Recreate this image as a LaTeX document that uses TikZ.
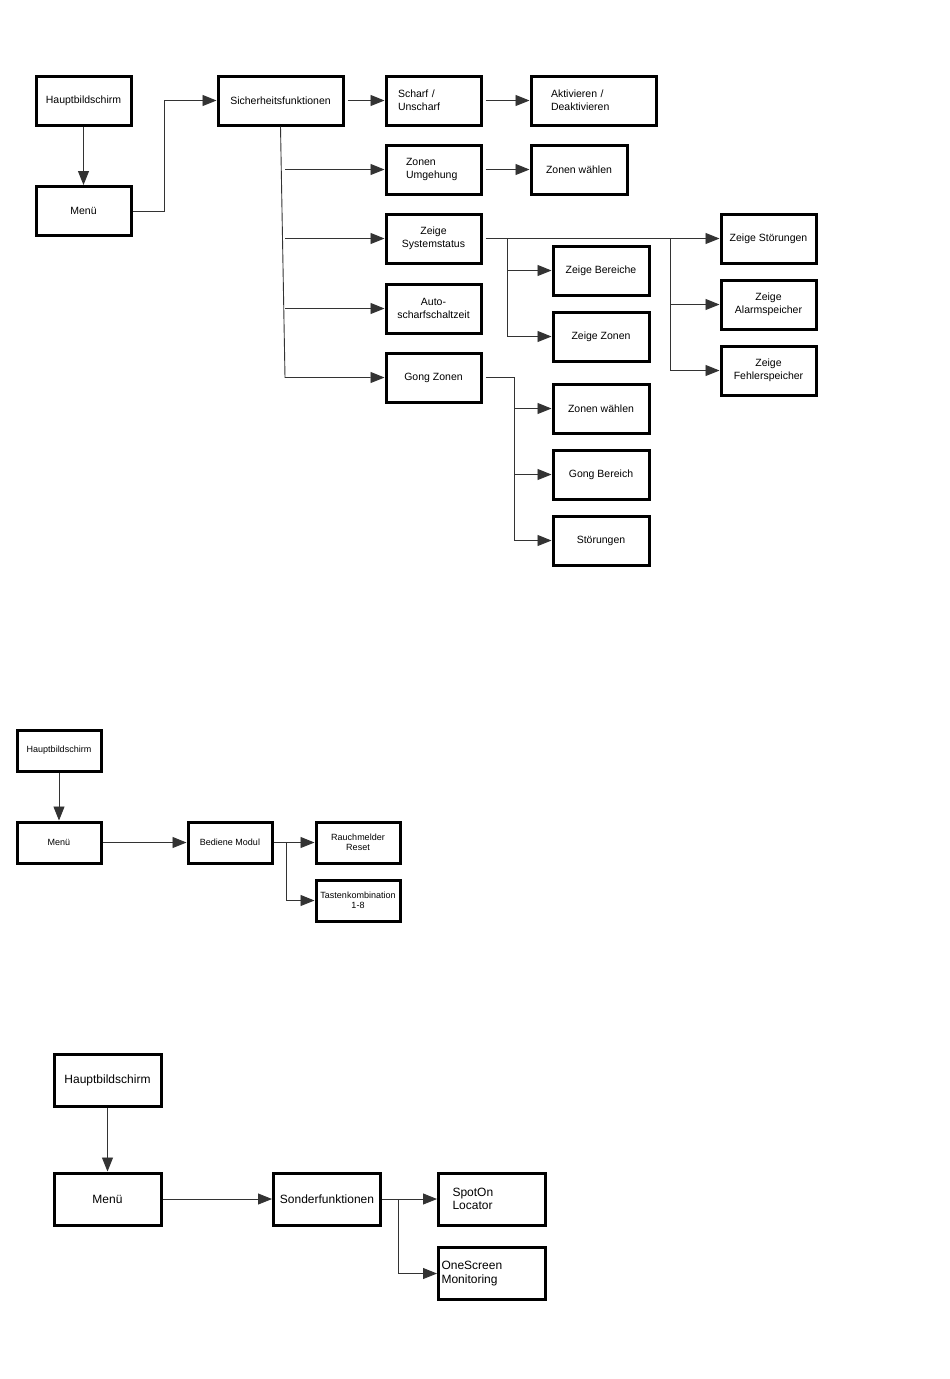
\documentclass[tikz,border=0pt]{standalone}
\usepackage{fontspec}
\setmainfont{Liberation Sans}
\usetikzlibrary{arrows.meta,calc}
\begin{document}
\begin{tikzpicture}[x=1pt,y=-1pt,
  box/.style={draw=black,line width=3pt,inner sep=0pt,align=center},
  topbox/.style={box,minimum width=95,minimum height=49,font=\fontsize{10.5}{12.6}\selectfont},
  midbox/.style={box,minimum width=84,minimum height=41,font=\fontsize{9}{10}\selectfont},
  botbox/.style={box,minimum width=107,minimum height=52,font=\fontsize{12}{13.5}\selectfont},
  lefttext/.style={align=left},
  conn/.style={draw=black!80,line width=0.9pt},
  arr/.style={conn,-{Triangle[length=14pt,width=11pt]}}]
\useasboundingbox[fill=white] (0,0) rectangle (950,1379);

% ---------- top diagram ----------
\node[topbox] (hb1) at (83.5,100.5) {Hauptbildschirm};
\node[topbox] (mn1) at (83.5,211) {Menü};
\node[topbox,minimum width=125] (sf) at (280.5,100.5) {Sicherheitsfunktionen};
\node[topbox,text width=71,inner xsep=12,lefttext] (sc) at (433.5,100.5) {Scharf /\\Unscharf};
\node[topbox,text width=85,inner xsep=20,lefttext] (ak) at (593.5,100.5) {Aktivieren /\\Deaktivieren};
\node[topbox,text width=55,inner xsep=20,lefttext] (zu) at (433.5,169.5) {Zonen\\Umgehung};
\node[topbox,minimum width=96] (zw) at (579,169.5) {Zonen wählen};
\node[topbox] (zs) at (433.5,238.5) {Zeige\\Systemstatus};
\node[topbox] (as) at (433.5,308.5) {Auto-\\scharfschaltzeit};
\node[topbox] (gz) at (433.5,377.5) {Gong Zonen};
\node[topbox] (zst) at (768.5,238.5) {Zeige Störungen};
\node[topbox,minimum width=96] (zb) at (601,270.5) {Zeige Bereiche};
\node[topbox,minimum width=96] (zz) at (601,336.5) {Zeige Zonen};
\node[topbox] (za) at (768.5,304.5) {Zeige\\Alarmspeicher};
\node[topbox] (zf) at (768.5,370.5) {Zeige\\Fehlerspeicher};
\node[topbox,minimum width=96] (gzw) at (601,408.5) {Zonen wählen};
\node[topbox,minimum width=96] (gb) at (601,474.5) {Gong Bereich};
\node[topbox,minimum width=96] (gs) at (601,540.5) {Störungen};

\draw[arr] (hb1) -- (mn1);
\draw[arr] (mn1.east) -- ++(32,0) |- (sf.west);
\draw[arr] ($(sf.east)+(3,0)$) -- (sc.west);
\draw[arr] ($(sc.east)+(3,0)$) -- (ak.west);
\coordinate (sfb) at (285,377.5);
\draw[arr] (sf.south) -- (sfb) -- (gz.west);
\draw[arr] (sfb |- zu.west) -- (zu.west);
\draw[arr] (sfb |- zs.west) -- (zs.west);
\draw[arr] (sfb |- as.west) -- (as.west);
\draw[arr] ($(zu.east)+(3,0)$) -- (zw.west);
\draw[arr] ($(zs.east)+(3,0)$) -- (zst.west);
\coordinate (j1) at (507,238.5);
\coordinate (j2) at (670,238.5);
\draw[arr] (j1) |- (zz.west);
\draw[arr] (j1 |- zb.west) -- (zb.west);
\draw[arr] (j2) |- (zf.west);
\draw[arr] (j2 |- za.west) -- (za.west);
\coordinate (j3) at (514,377.5);
\draw[arr] ($(gz.east)+(3,0)$) -- (j3) |- (gs.west);
\draw[arr] (j3 |- gzw.west) -- (gzw.west);
\draw[arr] (j3 |- gb.west) -- (gb.west);

% ---------- middle diagram ----------
\node[midbox] (hb2) at (59,750.5) {Hauptbildschirm};
\node[midbox] (mn2) at (59,842.5) {Menü};
\node[midbox] (bm) at (230,842.5) {Bediene Modul};
\node[midbox] (rr) at (358,842.5) {Rauchmelder\\Reset};
\node[midbox] (tk) at (358,900.5) {Tastenkombination\\1-8};

\draw[arr] (hb2) -- (mn2);
\draw[arr] (mn2) -- (bm);
\draw[arr] (bm.east) -- (rr.west);
\coordinate (j4) at (286,842.5);
\draw[arr] (j4) |- (tk.west);

% ---------- bottom diagram ----------
\node[botbox] (hb3) at (107.5,1080) {Hauptbildschirm};
\node[botbox] (mn3) at (107.5,1199) {Menü};
\node[botbox] (sof) at (327,1199) {Sonderfunktionen};
\node[botbox,text width=79,inner xsep=14,lefttext] (spl) at (492,1199) {SpotOn\\Locator};
\node[botbox,text width=101,inner xsep=3,lefttext] (osm) at (492,1273.5) {OneScreen\\Monitoring};

\draw[arr] (hb3) -- (mn3);
\draw[arr] (mn3) -- (sof);
\draw[arr] (sof.east) -- (spl.west);
\coordinate (j5) at (398,1199);
\draw[arr] (j5) |- (osm.west);
\end{tikzpicture}
\end{document}
